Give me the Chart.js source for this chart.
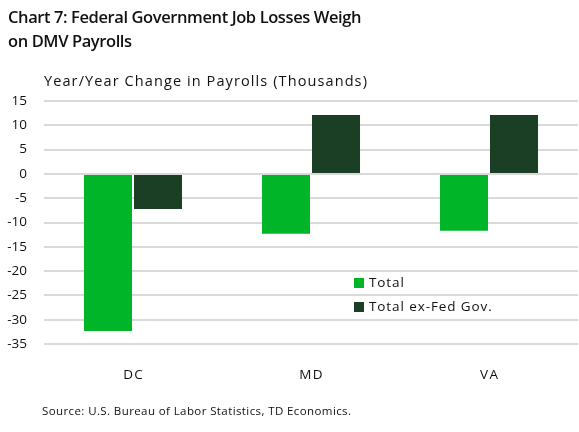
<!DOCTYPE html>
<html>
<head>
<meta charset="utf-8">
<script src="https://cdn.jsdelivr.net/npm/chart.js@4.4.1/dist/chart.umd.min.js"></script>
<style>
  html, body { margin: 0; padding: 0; background: #fff; }
  body { width: 579px; height: 432px; position: relative; overflow: hidden; font-family: "Open Sans", sans-serif; color: #111; }
  #wrap { position: absolute; left: 0; top: 0; width: 579px; height: 432px; }
  .title { position: absolute; left: 8px; top: 5px; font-size: 16.5px; font-weight: 600; line-height: 24px; letter-spacing: -0.4px; }
  .ytitle { position: absolute; left: 44px; top: 71px; font-size: 14.5px; letter-spacing: 1.1px; }
  .source { position: absolute; left: 42px; top: 403px; font-size: 11.5px; letter-spacing: 0.4px; }
  .legend { position: absolute; left: 354px; top: 271px; font-size: 13.5px; letter-spacing: 0.9px; }
  .legend div { height: 24px; line-height: 22px; }
  .legend span { display: inline-block; width: 10px; height: 10px; margin-right: 5px; vertical-align: -1px; }
</style>
</head>
<body>
<div id="wrap"><canvas id="chart"></canvas></div>
<div class="title">Chart 7: Federal Government Job Losses Weigh<br>on DMV Payrolls</div>
<div class="ytitle">Year/Year Change in Payrolls (Thousands)</div>
<div class="legend" id="legend"></div>
<div class="source">Source: U.S. Bureau of Labor Statistics, TD Economics.</div>
<script>
const categories = ['DC', 'MD', 'VA'];
const totalValues = [-32.3, -12.3, -11.7];
const exFedValues = [-7.2, 12.1, 12.1];
const seriesNames = ['Total', 'Total ex-Fed Gov.'];
const seriesColors = ['#00b527', '#1a3f25'];

// legende manuelle
const legendEl = document.getElementById('legend');
seriesNames.forEach(function(name, i) {
    const row = document.createElement('div');
    row.innerHTML = '<span style="background:' + seriesColors[i] + '"></span>' + name;
    legendEl.appendChild(row);
});

const ctx = document.getElementById('chart');
new Chart(ctx, {
    type: 'bar',
    data: {
        labels: categories,
        datasets: [{
            label: seriesNames[0],
            data: totalValues,
            backgroundColor: seriesColors[0]
        }, {
            label: seriesNames[1],
            data: exFedValues,
            backgroundColor: seriesColors[1]
        }]
    },
    options: {
        responsive: true,
        maintainAspectRatio: false,
        animation: false,
        categoryPercentage: 0.562,
        barPercentage: 0.96,
        layout: { padding: { top: 101, right: 1, left: 0, bottom: 0 } },
        plugins: {
            legend: { display: false },
            tooltip: { enabled: false }
        },
        scales: {
            x: {
                grid: { display: false },
                border: { display: false },
                ticks: {
                    color: '#111',
                    padding: 15,
                    font: { family: 'Open Sans', size: 13.5 },
                    // espacement des lettres comme dans l'original
                    callback: function(value) {
                        return this.getLabelForValue(value).split('').join('\u200A');
                    }
                },
                afterFit: function(scale) { scale.height = 88; }
            },
            y: {
                min: -35,
                max: 15,
                grid: {
                    color: '#d9d9d9',
                    lineWidth: 2,
                    drawTicks: false
                },
                border: { display: false },
                ticks: {
                    stepSize: 5,
                    color: '#111',
                    padding: 17,
                    font: { family: 'Open Sans', size: 13.5 }
                },
                afterFit: function(scale) { scale.width = 44; }
            }
        }
    }
});
</script>
</body>
</html>
